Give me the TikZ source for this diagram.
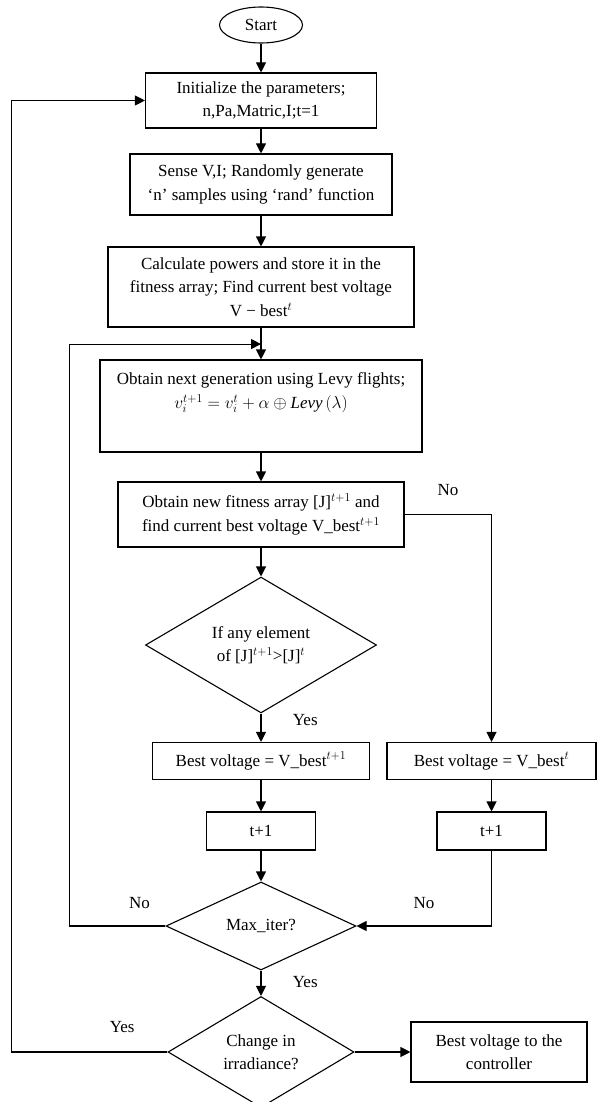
\documentclass[tikz,border=0pt]{standalone}
\usepackage{fontspec}
\setmainfont{Liberation Serif}
\usetikzlibrary{shapes.geometric,arrows.meta,positioning}

\begin{document}
\begin{tikzpicture}[x=1pt, y=-1pt,
    font=\fontsize{17}{23.5}\selectfont,
    >={Triangle[length=10pt,width=10pt]},
    base/.style={draw, on grid, align=center, line width=1.1pt},
    proc/.style={base, rectangle},
    test/.style={base, diamond, inner sep=0pt},
    term/.style={base, ellipse},
    every path/.style={line width=1.1pt}]

\useasboundingbox (0,0) rectangle (597,1102);

\node [term, minimum width=83pt, minimum height=36pt] (start) at (261,25) {Start};
\node [proc, minimum width=231pt, minimum height=55pt] (init) [below=75.5pt of start] {Initialize the parameters;\\ n,Pa,Matric,I;t=1};
\node [proc, minimum width=262pt, minimum height=61pt] (sense) [below=84pt of init] {Sense V,I; Randomly generate\\ ‘n’ samples using ‘rand’ function};
\node [proc, minimum width=306pt, minimum height=80pt] (calc) [below=102.5pt of sense] {Calculate powers and store it in the\\ fitness array; Find current best voltage\\ V − best$^{t}$};
\node [proc, minimum width=322pt, minimum height=92pt] (levy) [below=119pt of calc] {Obtain next generation using Levy flights;\\ $v_i^{t+1}=v_i^t+\alpha\oplus \mathit{Levy}\,(\lambda)$\\ \strut};
\node [proc, minimum width=286pt, minimum height=65pt] (fit) [below=108.5pt of levy] {Obtain new fitness array [J]$^{t+1}$ and\\ find current best voltage V\_best$^{t+1}$};
\node [test, minimum width=231pt, minimum height=134pt] (cmp) [below=130.5pt of fit] {If any element\\ of [J]$^{t+1}$>[J]$^{t}$};
\node [proc, minimum width=217pt, minimum height=37pt] (bestA) [below=116pt of cmp] {Best voltage = V\_best$^{t+1}$};
\node [proc, minimum width=209pt, minimum height=37pt] (bestB) [right=230.5pt of bestA] {Best voltage = V\_best$^{t}$};
\node [proc, minimum width=109pt, minimum height=38pt] (incA) [below=70pt of bestA] {t+1};
\node [proc, minimum width=109pt, minimum height=38pt] (incB) [below=70pt of bestB] {t+1};
\node [test, minimum width=190pt, minimum height=88pt] (maxit) [below=95pt of incA] {Max\_iter?};
\node [test, minimum width=186pt, minimum height=100pt] (chg) [below=126pt of maxit] {Change in\\ irradiance?};
\node [proc, minimum width=176pt, minimum height=60pt] (ctrl) [right=238pt of chg] {Best voltage to the\\ controller};
\coordinate [below=16.5pt of calc.south] (mrg);

\draw [->] (start) -- (init);
\draw [->] (init) -- (sense);
\draw [->] (sense) -- (calc);
\draw [->] (calc) -- (levy);
\draw [->] (levy) -- (fit);
\draw [->] (fit) -- (cmp);
\draw [->] (fit.east) -| (bestB) node[pos=0.25,above=15pt] {No};
\draw [->] (cmp) -- (bestA) node[pos=0.23,right=28pt] {Yes};
\draw [->] (bestA) -- (incA);
\draw [->] (bestB) -- (incB);
\draw [->] (incA) -- (maxit);
\draw [->] (incB) |- (maxit.east) node[pos=0.75,above=13pt] {No};
\draw [->] (maxit.west) -- node[pos=0.27,above=13pt] {No} ++(-96,0) |- (mrg);
\draw [->] (maxit) -- (chg) node[pos=0.44,right=28pt] {Yes};
\draw [->] (chg.west) -- node[pos=0.29,above=15pt] {Yes} ++(-156,0) |- (init.west);
\draw [->] (chg) -- (ctrl);

\end{tikzpicture}
\end{document}
